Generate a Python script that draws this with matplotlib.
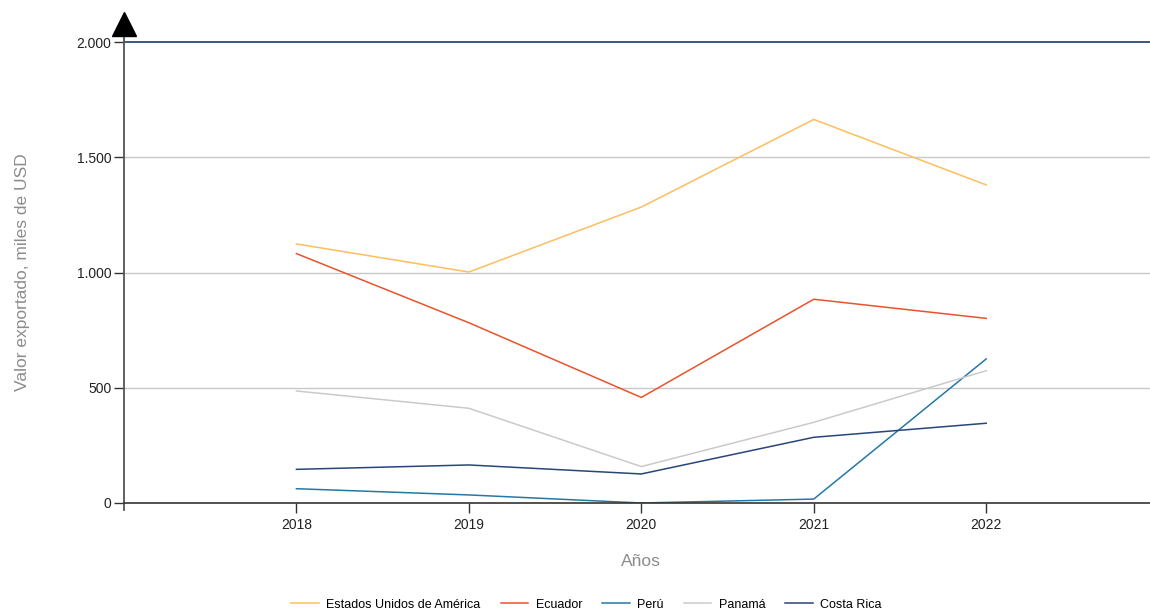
import matplotlib.pyplot as plt
from matplotlib.ticker import FuncFormatter

plt.rcParams['font.family'] = ['Liberation Sans', 'DejaVu Sans']

years = [2018, 2019, 2020, 2021, 2022]
usa = [1124, 1002, 1284, 1664, 1380]
ecuador = [1082, 782, 458, 884, 801]
peru = [62, 35, 0, 17, 625]
panama = [486, 411, 158, 350, 574]
costa_rica = [146, 165, 126, 285, 346]

names = ['Estados Unidos de América', 'Ecuador', 'Perú', 'Panamá', 'Costa Rica']
colors = ['#FDBE5F', '#E9532B', '#2478A6', '#CACACA', '#28457C']
series = [usa, ecuador, peru, panama, costa_rica]

fig = plt.figure(figsize=(11.5, 6.14), dpi=100)
ax = fig.add_axes([124 / 1150, 111 / 614, 1 - 124 / 1150, 461 / 614])

for vals, name, col in zip(series, names, colors):
    ax.plot(years, vals, color=col, lw=1.1, label=name)

ax.set_xlim(2017, 2022.95)
ax.set_ylim(0, 2000)
ax.set_xticks(years)
ax.set_yticks([0, 500, 1000, 1500, 2000])
ax.yaxis.set_major_formatter(FuncFormatter(lambda v, p: f'{int(v):,}'.replace(',', '.')))

# grid lines
for v in [500, 1000, 1500]:
    ax.axhline(v, color='#C8C8C8', lw=1, zorder=0)
ax.axhline(2000, color='#1F3A6E', lw=1.2, clip_on=False, zorder=0)

for s in ['top', 'right', 'left']:
    ax.spines[s].set_visible(False)
ax.spines['bottom'].set_color('#333333')
ax.spines['bottom'].set_linewidth(1.2)

# y axis line with arrow
ax.plot([0, 0], [-0.016, 1.035], transform=ax.transAxes, color='#555555', lw=1.3, clip_on=False)
ax.plot([0], [1.04], transform=ax.transAxes, marker='^', color='black', markersize=17, clip_on=False)

ax.tick_params(axis='both', length=7, width=1, color='#333333', labelsize=10, labelcolor='#222222')
ax.tick_params(axis='x', pad=4)
ax.tick_params(axis='y', pad=2)

ax.set_ylabel('Valor exportado, miles de USD', fontsize=12.5, color='#8C8C8C')
ax.yaxis.set_label_coords(-94 / 1026, 0.5)
ax.set_xlabel('Años', fontsize=12.5, color='#8C8C8C')
ax.xaxis.set_label_coords(0.504, -51 / 461)

fig.legend(loc='lower center', bbox_to_anchor=(0.51, -0.013), ncol=5, frameon=False, fontsize=9,
           handlelength=2.2, columnspacing=1.6, handletextpad=0.6)

fig.savefig('out.png', dpi=100)
